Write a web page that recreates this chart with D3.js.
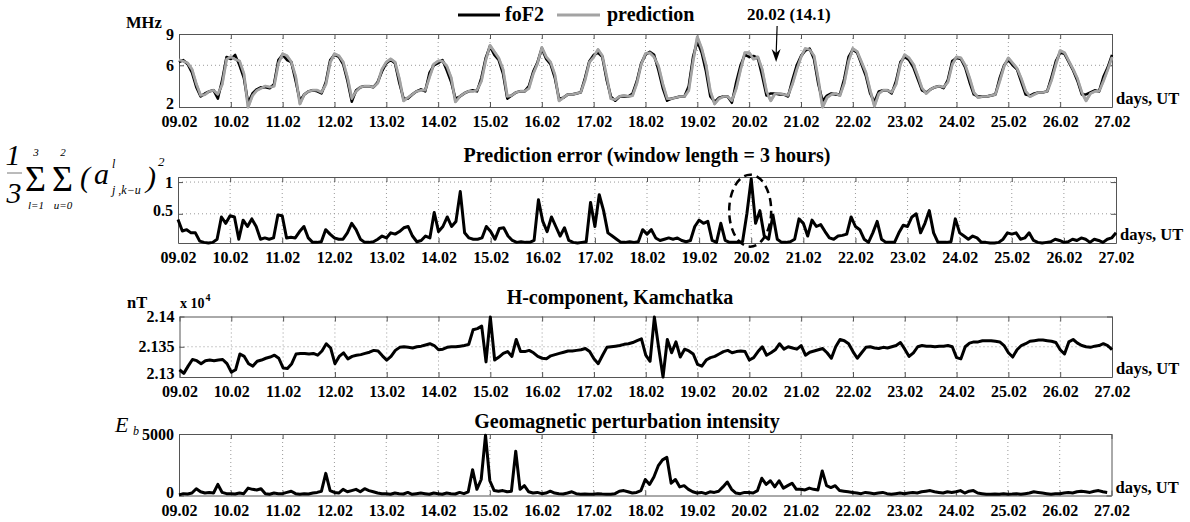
<!DOCTYPE html>
<html>
<head>
<meta charset="utf-8">
<script src="https://cdn.jsdelivr.net/npm/d3@7"></script>
<style>
body { margin: 0; background: #fff; }
text { font-family: "Liberation Serif", "Times New Roman", serif; }
.axis path, .axis line { stroke: #555; stroke-width: 1; }
.axis text { font-family: "Liberation Serif", serif; font-weight: bold; font-size: 16px; fill: #000; }
.grid { stroke: #999; stroke-width: 1; stroke-dasharray: 1,3; }
.unit, .lbl { font-weight: bold; font-size: 16.5px; }
.title { font-weight: bold; font-size: 20px; }
</style>
</head>
<body>
<svg width="1190" height="522"></svg>
<script>
// day tick labels (18 days, Feb 9 - Feb 27)
var dayLabels = ["09.02","10.02","11.02","12.02","13.02","14.02","15.02","16.02","17.02","18.02",
                 "19.02","20.02","21.02","22.02","23.02","24.02","25.02","26.02","27.02"];
var step = 2 / 24; // one sample every 2 hours

// foF2, MHz
var foF2 = [
  6.3, 6.5, 6.1, 5.3, 3.9, 3.0, 3.3, 3.5, 3.6, 2.8, 4.6, 6.8,
  6.6, 7.0, 6.0, 4.8, 2.4, 3.3, 3.7, 3.9, 3.9, 3.8, 4.2, 6.5,
  7.0, 6.5, 6.3, 4.5, 2.6, 3.2, 3.5, 3.6, 3.5, 3.3, 4.4, 6.5,
  7.0, 6.8, 6.1, 4.5, 2.5, 3.6, 3.9, 4.0, 4.0, 3.9, 4.4, 5.4,
  6.2, 6.5, 6.2, 4.3, 2.8, 2.8, 3.2, 3.5, 3.7, 3.5, 5.3, 6.0,
  6.2, 6.5, 5.5, 4.4, 2.8, 3.0, 3.3, 3.5, 3.6, 3.5, 4.8, 6.7,
  7.8, 7.0, 6.5, 5.2, 2.8, 3.1, 3.4, 3.5, 3.5, 4.0, 5.4, 6.3,
  7.6, 6.6, 6.1, 4.8, 2.8, 2.9, 3.2, 3.2, 3.3, 3.4, 4.8, 6.4,
  7.0, 7.2, 6.8, 4.6, 3.0, 2.6, 3.0, 3.0, 3.0, 3.3, 4.5, 6.2,
  7.0, 7.3, 7.0, 5.5, 3.8, 2.6, 2.8, 2.9, 3.0, 3.0, 4.0, 6.8,
  8.3, 7.2, 5.4, 3.0, 2.5, 2.9, 3.0, 3.0, 2.4, 4.4, 6.0, 7.0,
  6.8, 6.9, 6.7, 5.0, 3.1, 3.3, 3.3, 3.2, 3.2, 3.0, 4.6, 6.0,
  6.9, 7.4, 7.6, 6.6, 4.2, 2.6, 3.1, 3.3, 3.2, 3.2, 4.7, 6.8,
  7.5, 7.2, 6.1, 5.0, 3.3, 2.5, 3.5, 3.6, 3.6, 3.3, 4.5, 6.3,
  6.8, 6.5, 5.8, 4.7, 3.6, 3.4, 3.7, 3.9, 4.0, 3.8, 4.6, 6.4,
  6.7, 6.6, 5.8, 4.4, 3.2, 3.0, 3.0, 3.0, 3.1, 3.2, 4.8, 6.0,
  6.5, 6.0, 5.6, 4.4, 3.2, 3.1, 3.3, 3.4, 3.4, 3.5, 4.9, 6.4,
  7.2, 7.1, 6.3, 5.5, 4.5, 3.2, 3.2, 3.4, 3.6, 3.5, 4.9, 5.8,
  7.0
];

// model prediction of foF2, MHz
var prediction = [
  6.5, 6.4, 6.2, 5.6, 4.2, 3.1, 3.2, 3.5, 3.6, 3.2, 4.2, 6.6,
  6.8, 6.6, 6.4, 5.2, 2.0, 3.1, 3.6, 3.8, 4.0, 3.9, 4.0, 6.2,
  7.1, 6.9, 6.3, 4.9, 2.3, 3.2, 3.5, 3.6, 3.6, 3.4, 4.2, 6.3,
  7.1, 6.9, 6.3, 4.8, 2.8, 3.5, 3.9, 4.0, 4.0, 3.9, 4.3, 5.6,
  6.3, 6.6, 6.3, 4.7, 2.6, 2.9, 3.2, 3.5, 3.6, 3.6, 4.9, 6.1,
  6.4, 6.4, 5.9, 4.8, 2.5, 3.0, 3.3, 3.5, 3.5, 3.6, 4.5, 6.5,
  7.9, 7.3, 6.7, 5.6, 3.0, 3.1, 3.4, 3.5, 3.5, 3.8, 5.2, 6.2,
  7.7, 6.8, 6.3, 5.1, 2.6, 2.9, 3.2, 3.2, 3.3, 3.4, 4.6, 6.3,
  6.8, 7.5, 6.9, 4.9, 2.8, 2.7, 3.0, 3.1, 3.0, 3.1, 4.3, 6.1,
  7.1, 7.2, 6.8, 5.9, 4.2, 2.8, 2.8, 2.9, 3.0, 3.0, 3.6, 6.4,
  8.7, 7.6, 6.0, 3.5, 2.3, 2.8, 3.0, 3.0, 2.6, 3.8, 5.6, 7.2,
  7.2, 6.6, 6.8, 5.6, 3.5, 2.6, 3.3, 3.3, 3.2, 3.1, 4.2, 5.6,
  6.8, 7.6, 7.5, 6.9, 4.6, 2.0, 2.9, 3.2, 3.3, 3.1, 4.3, 6.4,
  7.6, 7.3, 6.3, 5.3, 3.6, 2.1, 3.3, 3.6, 3.6, 3.4, 4.2, 6.1,
  7.0, 6.7, 6.1, 5.0, 3.8, 3.3, 3.7, 3.9, 4.0, 3.9, 4.4, 6.1,
  6.8, 6.7, 6.0, 4.8, 3.4, 2.9, 3.0, 3.0, 3.1, 3.2, 4.5, 5.9,
  6.7, 6.2, 5.7, 4.7, 3.5, 3.0, 3.2, 3.4, 3.4, 3.5, 4.6, 6.1,
  7.4, 7.2, 6.4, 5.6, 4.7, 3.4, 2.6, 3.3, 3.5, 3.5, 4.5, 5.6,
  6.8
];

// prediction error, window length = 3 hours
var predError = [
  0.41, 0.23, 0.25, 0.20, 0.20, 0.07, 0.05, 0.04, 0.05, 0.10, 0.45, 0.35,
  0.47, 0.45, 0.10, 0.40, 0.30, 0.42, 0.30, 0.10, 0.12, 0.10, 0.12, 0.48,
  0.47, 0.12, 0.13, 0.12, 0.22, 0.30, 0.12, 0.05, 0.05, 0.06, 0.25, 0.18,
  0.12, 0.10, 0.10, 0.20, 0.35, 0.25, 0.10, 0.05, 0.05, 0.06, 0.10, 0.15,
  0.12, 0.20, 0.18, 0.22, 0.28, 0.30, 0.15, 0.06, 0.08, 0.15, 0.12, 0.52,
  0.22, 0.30, 0.45, 0.30, 0.38, 0.85, 0.20, 0.12, 0.10, 0.10, 0.12, 0.30,
  0.22, 0.10, 0.27, 0.28, 0.15, 0.08, 0.05, 0.06, 0.05, 0.05, 0.08, 0.72,
  0.38, 0.22, 0.45, 0.30, 0.15, 0.28, 0.08, 0.05, 0.04, 0.05, 0.06, 0.68,
  0.30, 0.80, 0.55, 0.20, 0.15, 0.10, 0.05, 0.05, 0.06, 0.05, 0.06, 0.25,
  0.18, 0.25, 0.12, 0.08, 0.10, 0.12, 0.10, 0.12, 0.08, 0.06, 0.08, 0.30,
  0.40, 0.35, 0.38, 0.08, 0.05, 0.35, 0.08, 0.05, 0.05, 0.05, 0.06, 0.50,
  1.05, 0.35, 0.55, 0.15, 0.10, 0.48, 0.10, 0.05, 0.05, 0.06, 0.10, 0.42,
  0.35, 0.15, 0.40, 0.30, 0.33, 0.22, 0.12, 0.10, 0.15, 0.16, 0.18, 0.45,
  0.30, 0.25, 0.10, 0.05, 0.20, 0.38, 0.10, 0.05, 0.05, 0.05, 0.20, 0.32,
  0.30, 0.45, 0.50, 0.20, 0.35, 0.55, 0.20, 0.05, 0.05, 0.05, 0.06, 0.42,
  0.20, 0.15, 0.10, 0.15, 0.12, 0.05, 0.05, 0.04, 0.04, 0.05, 0.10, 0.20,
  0.18, 0.20, 0.10, 0.12, 0.20, 0.08, 0.05, 0.04, 0.05, 0.06, 0.10, 0.08,
  0.05, 0.06, 0.10, 0.08, 0.12, 0.10, 0.05, 0.10, 0.08, 0.05, 0.10, 0.12,
  0.20
];

// H-component, Kamchatka, x 10^4 nT
var hComp = [
  2.1312, 2.1306, 2.1318, 2.1329, 2.1327, 2.1322, 2.1327, 2.1328, 2.1327, 2.1328, 2.1329, 2.1322,
  2.1308, 2.1312, 2.1338, 2.1334, 2.1322, 2.1318, 2.1326, 2.1328, 2.1331, 2.1333, 2.1336, 2.1331,
  2.1315, 2.1314, 2.1322, 2.1338, 2.1339, 2.1339, 2.1338, 2.1339, 2.1336, 2.1343, 2.1355, 2.1348,
  2.1322, 2.1334, 2.1340, 2.1330, 2.1334, 2.1336, 2.1337, 2.1339, 2.1341, 2.1344, 2.1343, 2.1335,
  2.1328, 2.1334, 2.1344, 2.1349, 2.1350, 2.1349, 2.1348, 2.1350, 2.1351, 2.1353, 2.1355, 2.1352,
  2.1345, 2.1346, 2.1349, 2.1350, 2.1350, 2.1351, 2.1352, 2.1354, 2.1378, 2.1380, 2.1384, 2.1325,
  2.1399, 2.1328, 2.1333, 2.1339, 2.1342, 2.1334, 2.1362, 2.1342, 2.1342, 2.1344, 2.1340, 2.1334,
  2.1331, 2.1330, 2.1335, 2.1337, 2.1339, 2.1341, 2.1343, 2.1343, 2.1344, 2.1345, 2.1347, 2.1342,
  2.1330, 2.1322, 2.1336, 2.1349, 2.1350, 2.1351, 2.1352, 2.1354, 2.1355, 2.1357, 2.1360, 2.1363,
  2.1336, 2.1326, 2.1399, 2.1348, 2.1300, 2.1362, 2.1340, 2.1358, 2.1333, 2.1346, 2.1343, 2.1338,
  2.1321, 2.1318, 2.1328, 2.1332, 2.1334, 2.1338, 2.1342, 2.1344, 2.1340, 2.1342, 2.1343, 2.1342,
  2.1328, 2.1332, 2.1342, 2.1350, 2.1336, 2.1340, 2.1345, 2.1355, 2.1346, 2.1350, 2.1348, 2.1346,
  2.1352, 2.1336, 2.1341, 2.1343, 2.1345, 2.1347, 2.1340, 2.1331, 2.1350, 2.1362, 2.1360, 2.1355,
  2.1342, 2.1331, 2.1340, 2.1349, 2.1350, 2.1348, 2.1347, 2.1349, 2.1348, 2.1350, 2.1352, 2.1357,
  2.1346, 2.1334, 2.1340, 2.1350, 2.1352, 2.1351, 2.1351, 2.1350, 2.1351, 2.1351, 2.1352, 2.1350,
  2.1332, 2.1330, 2.1350, 2.1356, 2.1358, 2.1358, 2.1360, 2.1360, 2.1360, 2.1359, 2.1358, 2.1352,
  2.1340, 2.1333, 2.1345, 2.1352, 2.1355, 2.1359, 2.1360, 2.1361, 2.1361, 2.1360, 2.1359, 2.1357,
  2.1345, 2.1338, 2.1358, 2.1362, 2.1356, 2.1352, 2.1350, 2.1349, 2.1351, 2.1352, 2.1355, 2.1352,
  2.1345
];

// geomagnetic perturbation intensity E_b
var ebIntensity = [
  50, 150, 120, 200, 550, 300, 200, 250, 200, 900, 250, 150,
  150, 120, 200, 150, 600, 500, 450, 550, 150, 100, 200, 150,
  150, 250, 350, 150, 100, 150, 120, 200, 250, 350, 1800, 400,
  250, 200, 500, 300, 400, 500, 300, 550, 400, 300, 200, 150,
  150, 100, 200, 150, 120, 250, 100, 150, 200, 150, 100, 200,
  150, 100, 200, 150, 120, 250, 150, 300, 2100, 500, 1300, 4900,
  1200, 400, 350, 400, 300, 350, 3600, 500, 800, 300, 200, 250,
  150, 200, 350, 200, 150, 120, 200, 300, 150, 100, 120, 100,
  100, 150, 120, 100, 100, 150, 350, 400, 300, 200, 250, 400,
  1300, 900, 1500, 2400, 2900, 3100, 1000, 1300, 700, 800, 500, 300,
  200, 250, 150, 300, 250, 350, 700, 1100, 500, 200, 150, 250,
  250, 200, 400, 1400, 900, 1200, 700, 1200, 600, 800, 1000, 500,
  500, 450, 600, 500, 450, 2000, 800, 650, 800, 400, 350, 300,
  250, 200, 150, 250, 200, 150, 200, 250, 150, 100, 150, 200,
  150, 200, 250, 200, 300, 350, 400, 300, 250, 200, 300, 250,
  300, 400, 200, 350, 400, 200, 150, 100, 100, 120, 100, 150,
  100, 120, 150, 100, 150, 200, 300, 250, 200, 150, 100, 150,
  150, 200, 250, 200, 300, 350, 300, 250, 350, 400, 300, 250
];

var svg = d3.select("svg");
var days = d3.range(dayLabels.length);

function drawPanel(p) {
  var x = d3.scaleLinear().domain([0, days.length - 1]).range([p.left, p.right]);
  var y = d3.scaleLinear().domain(p.yDomain).range([p.bottom, p.top]);
  var g = svg.append("g");

  g.append("g").selectAll("line").data(days.slice(1, -1)).join("line")
    .attr("class", "grid")
    .attr("x1", d => x(d)).attr("x2", d => x(d))
    .attr("y1", p.top).attr("y2", p.bottom);
  g.append("g").selectAll("line").data(p.hGrid).join("line")
    .attr("class", "grid")
    .attr("x1", p.left).attr("x2", p.right)
    .attr("y1", d => y(d)).attr("y2", d => y(d));

  g.append("g").attr("class", "axis").attr("transform", "translate(0," + p.bottom + ")")
    .call(d3.axisBottom(x).tickValues(days).tickFormat(i => dayLabels[i])
      .tickSizeInner(-5).tickSizeOuter(0).tickPadding(9));
  g.append("g").attr("class", "axis").attr("transform", "translate(0," + p.top + ")")
    .call(d3.axisTop(x).tickValues(days).tickFormat("").tickSizeInner(-5).tickSizeOuter(0));
  var yl = g.append("g").attr("class", "axis").attr("transform", "translate(" + p.left + ",0)")
    .call(d3.axisLeft(y).tickValues(p.yTicks).tickFormat(p.yFormat)
      .tickSizeInner(-5).tickSizeOuter(0).tickPadding(5));
  // lift the lowest label a little so it clears the date labels
  yl.selectAll(".tick text").filter(d => d === p.yTicks[0]).attr("dy", "0.1em");
  g.append("g").attr("class", "axis").attr("transform", "translate(" + p.right + ",0)")
    .call(d3.axisRight(y).tickValues(p.yTicks).tickFormat("").tickSizeInner(-5).tickSizeOuter(0));

  g.append("text").attr("class", "unit")
    .attr("x", p.right + 4).attr("y", p.bottom - 3).text("days, UT");
  return { x: x, y: y, g: g };
}

function addLine(P, data, color, width) {
  var line = d3.line().x((d, i) => P.x(i * step)).y(d => P.y(d));
  P.g.append("path").datum(data)
    .attr("d", line).attr("fill", "none")
    .attr("stroke", color).attr("stroke-width", width)
    .attr("stroke-linejoin", "round");
}

// ---------- panel 1: foF2 ----------
var p1 = drawPanel({ left: 179, right: 1112, top: 34, bottom: 107,
  yDomain: [2, 9], yTicks: [2, 6, 9], yFormat: d3.format("d"), hGrid: [6] });
addLine(p1, prediction, "#a3a3a3", 3);
addLine(p1, foF2, "#000", 2.5);
addLine(p1, prediction, "#a3a3a3", 2.5);

svg.append("text").attr("class", "lbl").attr("x", 126).attr("y", 28).text("MHz");

// legend
svg.append("line").attr("x1", 458).attr("x2", 500).attr("y1", 15).attr("y2", 15)
  .attr("stroke", "#000").attr("stroke-width", 3);
svg.append("text").attr("class", "title").attr("x", 505).attr("y", 21).text("foF2");
svg.append("line").attr("x1", 557).attr("x2", 600).attr("y1", 15).attr("y2", 15)
  .attr("stroke", "#a3a3a3").attr("stroke-width", 3);
svg.append("text").attr("class", "title").attr("x", 607).attr("y", 21).text("prediction");

// arrow annotation
var ax = p1.x(11.52);
svg.append("text").attr("x", 747).attr("y", 20)
  .attr("font-weight", "bold").attr("font-size", 17).text("20.02 (14.1)");
svg.append("line").attr("x1", ax + 1).attr("x2", ax).attr("y1", 26).attr("y2", 55)
  .attr("stroke", "#000").attr("stroke-width", 1.2);
svg.append("path").attr("d", "M" + (ax - 4.5) + ",49 L" + ax + ",62 L" + (ax + 4.5) + ",49 L" + ax + ",53 Z")
  .attr("fill", "#000");

// ---------- panel 2: prediction error ----------
var p2 = drawPanel({ left: 178, right: 1116, top: 177, bottom: 243,
  yDomain: [0.04, 1.08], yTicks: [0.5, 1], yFormat: d => d === 1 ? "1" : "0.5", hGrid: [0.5, 1] });
addLine(p2, predError, "#000", 3);
svg.append("text").attr("class", "title").attr("x", 647).attr("y", 162)
  .attr("text-anchor", "middle").text("Prediction error (window length = 3 hours)");
svg.append("ellipse")
  .attr("cx", p2.x(10.98)).attr("cy", p2.y(0.55)).attr("rx", 21).attr("ry", 36)
  .attr("fill", "none").attr("stroke", "#000").attr("stroke-width", 2.5)
  .attr("stroke-dasharray", "8,5");

// formula label
var fm = svg.append("g").attr("fill", "#000");
fm.append("text").attr("x", 13).attr("y", 165).attr("text-anchor", "middle")
  .attr("font-style", "italic").attr("font-size", 30).text("1");
fm.append("line").attr("x1", 7).attr("x2", 22).attr("y1", 173).attr("y2", 173)
  .attr("stroke", "#777").attr("stroke-width", 1);
fm.append("text").attr("x", 14).attr("y", 203).attr("text-anchor", "middle")
  .attr("font-style", "italic").attr("font-size", 30).text("3");
[[25, "3", "l=1"], [52, "2", "u=0"]].forEach(function (s) {
  fm.append("text").attr("x", s[0]).attr("y", 191).attr("font-size", 36).text("Σ");
  fm.append("text").attr("x", s[0] + 11).attr("y", 156).attr("text-anchor", "middle")
    .attr("font-style", "italic").attr("font-size", 11).text(s[1]);
  fm.append("text").attr("x", s[0] + 11).attr("y", 208.5).attr("text-anchor", "middle")
    .attr("font-style", "italic").attr("font-size", 11).text(s[2]);
});
fm.append("text").attr("x", 80).attr("y", 187).attr("font-style", "italic").attr("font-size", 30).text("(");
fm.append("text").attr("x", 94).attr("y", 184).attr("font-style", "italic").attr("font-size", 30).text("a");
fm.append("text").attr("x", 112).attr("y", 168).attr("font-style", "italic").attr("font-size", 12).text("l");
fm.append("text").attr("x", 112).attr("y", 194).attr("font-style", "italic").attr("font-size", 12).text("j ,k−u");
fm.append("text").attr("x", 146).attr("y", 187).attr("font-style", "italic").attr("font-size", 30).text(")");
fm.append("text").attr("x", 158).attr("y", 166).attr("font-style", "italic").attr("font-size", 13).text("2");

// ---------- panel 3: H-component ----------
var p3 = drawPanel({ left: 179.5, right: 1112, top: 316.5, bottom: 377,
  yDomain: [2.13, 2.14], yTicks: [2.13, 2.135, 2.14], yFormat: d => String(+d.toFixed(3)), hGrid: [2.135] });
addLine(p3, hComp, "#000", 3);
svg.append("text").attr("class", "title").attr("x", 620).attr("y", 304)
  .attr("text-anchor", "middle").text("H-component, Kamchatka");
svg.append("text").attr("class", "lbl").attr("x", 127).attr("y", 308).text("nT");
svg.append("text").attr("x", 180).attr("y", 308).attr("font-weight", "bold").attr("font-size", 14).text("x 10");
svg.append("text").attr("x", 205.5).attr("y", 301).attr("font-weight", "bold").attr("font-size", 10).text("4");

// ---------- panel 4: E_b ----------
var p4 = drawPanel({ left: 179, right: 1111.5, top: 434, bottom: 495.5,
  yDomain: [0, 5000], yTicks: [0, 5000], yFormat: d3.format("d"), hGrid: [] });
addLine(p4, ebIntensity, "#000", 3);
svg.append("text").attr("class", "title").attr("x", 627).attr("y", 428)
  .attr("text-anchor", "middle").text("Geomagnetic perturbation intensity");
svg.append("text").attr("x", 115).attr("y", 432).attr("font-style", "italic").attr("font-size", 22).text("E");
svg.append("text").attr("x", 133).attr("y", 435).attr("font-style", "italic").attr("font-size", 12).text("b");
</script>
</body>
</html>
